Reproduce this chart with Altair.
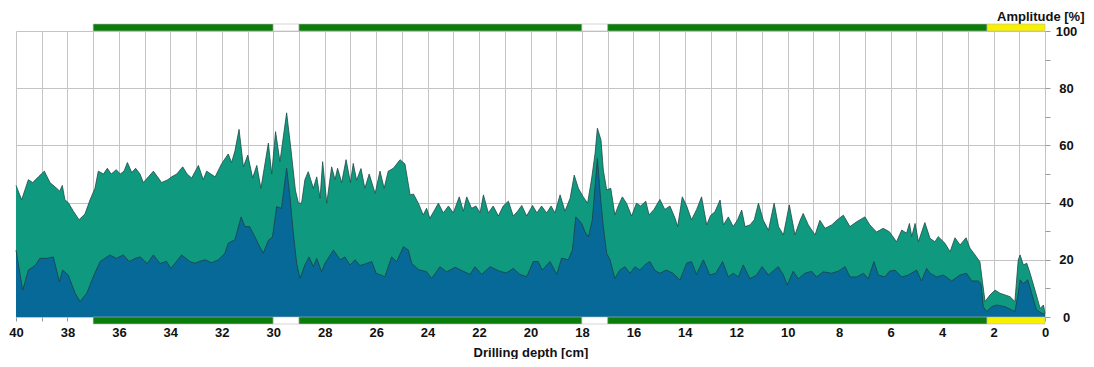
import altair as alt
import pandas as pd

# ---- data ----
upper_depth = [
    40.0, 39.78, 39.52, 39.35, 39.13, 38.9, 38.68, 38.42, 38.3, 38.2,
    38.1, 37.97, 37.77, 37.55, 37.32, 37.12, 36.93, 36.8, 36.6, 36.45,
    36.3, 36.1, 35.95, 35.8, 35.67, 35.5, 35.35, 35.18, 35.05, 34.85,
    34.66, 34.5, 34.34, 34.1, 33.95, 33.75, 33.52, 33.35, 33.17, 32.91,
    32.72, 32.59, 32.26, 32.0, 31.75, 31.62, 31.49, 31.33, 31.16, 30.99,
    30.8, 30.64, 30.48, 30.35, 30.19, 30.06, 29.91, 29.74, 29.48, 29.31,
    29.14, 29.02, 28.9, 28.77, 28.64, 28.44, 28.31, 28.18, 28.08, 27.92,
    27.73, 27.6, 27.5, 27.34, 27.17, 27.0, 26.89, 26.76, 26.59, 26.44,
    26.27, 26.04, 25.85, 25.69, 25.53, 25.33, 25.07, 24.88, 24.68, 24.55,
    24.36, 24.17, 24.04, 23.91, 23.58, 23.39, 23.19, 23.0, 22.77, 22.61,
    22.48, 22.29, 22.12, 21.96, 21.83, 21.64, 21.45, 21.25, 21.06, 20.86,
    20.67, 20.5, 20.34, 20.15, 19.92, 19.75, 19.57, 19.37, 19.2, 19.05,
    18.85, 18.66, 18.46, 18.3, 18.14, 17.95, 17.78, 17.62, 17.49, 17.4,
    17.26, 17.17, 17.04, 16.88, 16.72, 16.59, 16.43, 16.27, 16.07, 15.88,
    15.72, 15.52, 15.39, 15.2, 14.97, 14.78, 14.58, 14.38, 14.28, 14.1,
    13.93, 13.74, 13.54, 13.35, 13.15, 13.0, 12.83, 12.63, 12.5, 12.31,
    12.12, 11.95, 11.79, 11.66, 11.47, 11.3, 11.14, 10.95, 10.75, 10.53,
    10.36, 10.17, 9.94, 9.72, 9.52, 9.4, 9.2, 8.94, 8.75, 8.55,
    8.29, 8.1, 7.84, 7.58, 7.32, 7.0, 6.81, 6.55, 6.29, 6.05,
    5.77, 5.57, 5.38, 5.27, 5.18, 5.05, 4.92, 4.67, 4.47, 4.28,
    4.15, 3.89, 3.69, 3.5, 3.3, 3.07, 2.92, 2.72, 2.53, 2.44,
    2.33, 2.14, 1.94, 1.75, 1.55, 1.36, 1.17, 1.04, 0.97, 0.84,
    0.71, 0.58, 0.39, 0.19, 0.06, 0.0,
]
upper_pct = [
    46, 41, 48, 47, 49, 51, 47, 45, 44, 46,
    41, 40, 37, 34, 36, 41, 45, 51, 50, 52,
    50, 51.5, 50, 51, 54, 50.5, 52, 50, 47, 49,
    51, 49, 47, 48, 49, 50, 52.5, 50, 48.6, 53,
    48, 51, 49, 53.7, 57, 54, 58, 65.6, 52.5, 56.6,
    48.6, 53, 45, 52, 60.8, 50, 64.8, 54.3, 71.4, 58.4,
    44.4, 39.8, 39.8, 48, 50.8, 45, 49, 41.5, 54.3, 39.8,
    52.5, 48, 52, 47, 55, 47, 53.7, 47.8, 51.9, 45,
    50, 43.2, 51, 45, 51, 52, 55, 53.5, 42.7, 43,
    39.8, 35.7, 38, 34.5, 39.8, 36.4, 38.8, 36.4, 42, 37,
    42, 38, 38.8, 36.4, 42.7, 36.4, 38.8, 35.3, 38.8, 40.5,
    35.3, 37, 39, 35.3, 39, 36.4, 38.8, 36.4, 38.8, 36.4,
    42.7, 37, 41.5, 49.6, 45, 42, 39.8, 48.6, 57.2, 66,
    61.9, 51.4, 44.4, 45, 35.7, 38.8, 42, 39.8, 35.3, 39.8,
    38.8, 40.5, 35.7, 37.6, 41.1, 37.6, 38.8, 34.5, 31.6, 42,
    38.8, 34, 37.6, 42, 32.2, 35.5, 36.8, 40.9, 32.2, 35,
    31.6, 34, 37.4, 31.6, 32.2, 34, 39.8, 33.8, 30.3, 39.8,
    31.6, 28.7, 39.2, 28.7, 33.8, 36.2, 32.2, 28.7, 33.8, 31,
    32.2, 33.8, 35.6, 31.6, 33.3, 35, 32.2, 29.7, 31, 29.8,
    26.3, 30.4, 29.3, 32.7, 28.1, 32.7, 26.3, 33, 27.5, 26.3,
    28.1, 25.8, 22.8, 27.7, 25.2, 27.7, 24.1, 21.7, 19.3, 12.9,
    5.4, 7.7, 9.4, 8.3, 7.7, 7.1, 5.4, 19.9, 21.7, 18.2,
    18.8, 15.3, 9.4, 3.0, 4.2, 1.3,
]

lower_depth = [
    40.0, 39.74, 39.52, 39.26, 39.07, 38.8, 38.55, 38.31, 38.19, 37.97,
    37.7, 37.51, 37.25, 37.0, 36.73, 36.35, 36.1, 35.83, 35.6, 35.37,
    35.17, 34.9, 34.66, 34.4, 34.15, 33.98, 33.56, 33.24, 33.04, 32.85,
    32.65, 32.4, 32.13, 31.88, 31.75, 31.49, 31.25, 31.1, 30.92, 30.71,
    30.55, 30.39, 30.19, 30.03, 29.87, 29.68, 29.48, 29.35, 29.22, 29.09,
    28.96, 28.77, 28.61, 28.44, 28.31, 28.12, 27.99, 27.66, 27.4, 27.21,
    27.02, 26.82, 26.63, 26.44, 26.17, 26.0, 25.66, 25.4, 25.2, 24.94,
    24.75, 24.62, 24.36, 24.04, 23.84, 23.52, 23.26, 22.93, 22.71, 22.35,
    22.16, 21.9, 21.57, 21.2, 20.94, 20.67, 20.41, 20.15, 19.89, 19.7,
    19.55, 19.24, 18.98, 18.79, 18.53, 18.37, 18.24, 18.01, 17.88, 17.75,
    17.6, 17.4, 17.27, 17.17, 17.04, 16.91, 16.72, 16.53, 16.33, 16.13,
    15.94, 15.75, 15.56, 15.36, 15.17, 14.98, 14.72, 14.46, 14.19, 13.93,
    13.74, 13.55, 13.28, 13.03, 12.8, 12.53, 12.31, 12.12, 11.92, 11.73,
    11.47, 11.21, 11.0, 10.75, 10.37, 10.17, 10.02, 9.79, 9.59, 9.33,
    9.07, 8.88, 8.62, 8.3, 8.04, 7.77, 7.58, 7.32, 7.06, 6.87,
    6.65, 6.48, 6.22, 6.05, 5.83, 5.57, 5.31, 4.99, 4.8, 4.6,
    4.47, 4.21, 3.95, 3.63, 3.3, 3.05, 2.85, 2.6, 2.49, 2.4,
    2.27, 2.07, 1.88, 1.55, 1.3, 1.17, 1.04, 0.97, 0.84, 0.67,
    0.52, 0.33, 0.14, 0.0,
]
lower_pct = [
    23.4, 9.4, 16.4, 18, 20.5, 20.5, 21, 12.3, 16.4, 14.7,
    8.3, 5.4, 8.3, 14, 19.4, 21.7, 20.5, 21.7, 19.4, 20.5,
    21, 18.7, 21.7, 18.7, 19.5, 17, 21.7, 19.4, 18.8, 19.5,
    20, 19, 20, 22.3, 25.8, 27, 35, 31.6, 31.6, 28,
    25, 22.3, 26.8, 28, 38.6, 38, 52, 42, 29.3, 18.8,
    13.5, 18.2, 21, 17.6, 20.5, 15.8, 18.8, 23.4, 20, 21,
    18.2, 20, 18, 18.5, 19.4, 15.3, 14.1, 21, 19.4, 24.6,
    23.4, 18.8, 16.6, 15.8, 13.5, 17.6, 15.8, 17.4, 16.4, 14.9,
    17.6, 14.9, 17.6, 16, 15.4, 17, 14.9, 14.1, 19.4, 19.4,
    16.4, 19.4, 14.9, 20.6, 20, 23.4, 35, 32.7, 29.8, 28,
    33.8, 55.5, 40.9, 31.6, 22.3, 20, 13.5, 16.4, 17.6, 15.3,
    17.6, 16.4, 18.2, 19.4, 16.4, 15.3, 16.4, 15.3, 12.9, 18.8,
    19.4, 14.9, 20, 14.7, 15.3, 19.4, 14, 15.3, 14, 18.2,
    13.4, 14.7, 17.6, 14.7, 17.6, 14.7, 11.2, 16, 13.4, 15.3,
    16, 14, 15.8, 15.3, 16, 17.6, 14, 14, 15.3, 13.4,
    19.4, 14.7, 14, 16, 16.4, 14, 14.7, 16.4, 12.6, 17,
    15.3, 14, 14.7, 12.6, 14.7, 15.3, 12.6, 12.6, 11.7, 3.6,
    1.9, 3.6, 4.2, 3.6, 2.5, 1.9, 8.3, 13, 11.7, 13,
    8.3, 2.5, 1.4, 1.0,
]

seg_start = [37, 30, 29, 18, 17, 2.25]
seg_end = [30, 29, 18, 17, 2.25, 0]
seg_color = ["#0a7d0a", "#ffffff", "#0a7d0a", "#ffffff", "#0a7d0a", "#f7f000"]

x_ticks = list(range(0, 41))
y_ticks = list(range(0, 101, 10))

# ---- tables ----
upper_df = pd.DataFrame({"depth": upper_depth, "pct": upper_pct})
lower_df = pd.DataFrame({"depth": lower_depth, "pct": lower_pct})
seg_df = pd.DataFrame({"start": seg_start, "end": seg_end, "color": seg_color})

FONT = "Liberation Sans"
xscale = alt.Scale(domain=[40, 0], nice=False, zero=False)
yscale = alt.Scale(domain=[0, 100], nice=False)

x_axis = alt.Axis(
    values=x_ticks,
    labelExpr="datum.value % 2 === 0 ? datum.label : ''",
    format="d",
    grid=True,
    gridColor="#c4c4c4",
    gridWidth=1,
    domain=False,
    tickColor="#999999",
    tickSize=4,
    labelPadding=5,
    labelFlush=False,
    labelOverlap=False,
    title="Drilling depth [cm]",
    titlePadding=7,
)
y_axis = alt.Axis(
    orient="right",
    values=y_ticks,
    labelExpr="datum.value % 20 === 0 ? datum.label : ''",
    grid=True,
    gridColor="#c4c4c4",
    gridOpacity={"condition": {"test": "datum.value % 20 === 0", "value": 1}, "value": 0},
    domain=False,
    tickColor="#999999",
    tickSize=5,
    labelAlign="center",
    labelPadding=16,
    labelOverlap=False,
    title="Amplitude [%]",
    titleAngle=0,
    titleAlign="right",
    titleBaseline="middle",
    titleX=39,
    titleY=-15,
)

X = lambda f: alt.X(f, scale=xscale, axis=x_axis, title="Drilling depth [cm]")
Y = lambda f: alt.Y(f, scale=yscale, axis=y_axis, title="Amplitude [%]")

upper = alt.Chart(upper_df).mark_area(
    color="#0f9a80", opacity=1,
    line={"color": "#1f4a48", "strokeWidth": 0.8},
).encode(x=X("depth:Q"), y=Y("pct:Q"))

lower = alt.Chart(lower_df).mark_area(
    color="#076997", opacity=1,
    line={"color": "#1a4048", "strokeWidth": 0.8},
).encode(x=X("depth:Q"), y=Y("pct:Q"))

top_bar = alt.Chart(seg_df).mark_rect(stroke="#b8b8b8", strokeWidth=0.6).encode(
    x=X("start:Q"),
    x2="end:Q",
    y=alt.value(-7),
    y2=alt.value(0),
    color=alt.Color("color:N", scale=None),
)
bottom_bar = alt.Chart(seg_df).mark_rect(stroke="#b8b8b8", strokeWidth=0.6).encode(
    x=X("start:Q"),
    x2="end:Q",
    y=alt.value(286),
    y2=alt.value(293),
    color=alt.Color("color:N", scale=None),
)

chart = alt.layer(upper, lower, top_bar, bottom_bar).properties(
    width=1029,
    height=286,
    autosize=alt.AutoSizeParams(type="none"),
    padding={"left": 8, "top": 23, "right": 41, "bottom": 42},
).configure_view(
    stroke=None
).configure_axis(
    labelFont=FONT,
    labelFontWeight="bold",
    labelFontSize=13,
    labelColor="#111111",
    titleFont=FONT,
    titleFontWeight="bold",
    titleFontSize=13,
    titleColor="#111111",
)

chart.save("out.html", embed_options={"renderer": "svg", "actions": False})
